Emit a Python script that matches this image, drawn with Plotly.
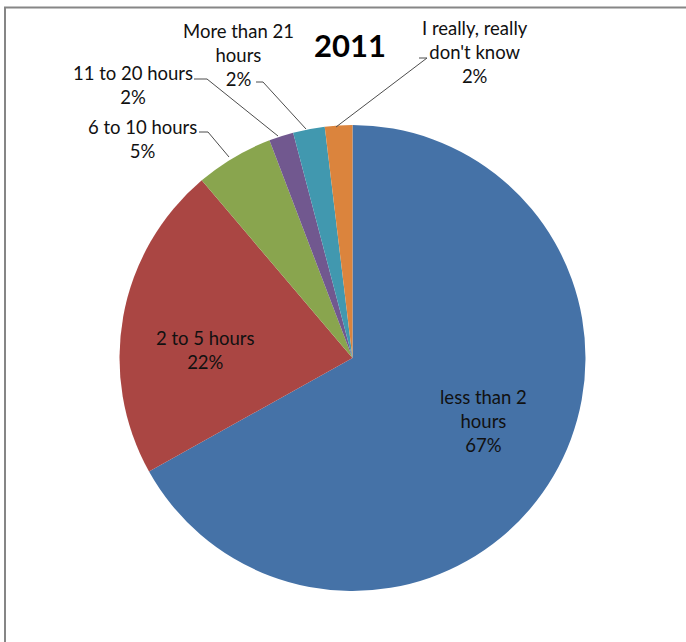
import plotly.graph_objects as go

categories = ["less than 2 hours", "2 to 5 hours", "6 to 10 hours",
              "11 to 20 hours", "More than 21 hours", "I really, really don't know"]
values = [66.9, 21.9, 5.4, 1.7, 2.2, 1.9]
colors = ["#4572A7", "#AA4643", "#89A54E", "#71588F", "#4198AF", "#DB843D"]
label_lines = [
    ["less than 2", "hours"],
    ["2 to 5 hours"],
    ["6 to 10 hours"],
    ["11 to 20 hours"],
    ["More than 21", "hours"],
    ["I really, really", "don't know"],
]
title_text = "2011"

W, H = 686, 642
cx, cy, r = 352.5, 358, 233

# label centres (pixels) and leader-line paths (pixels)
label_pos = [(483, 421), (205, 350), (142, 139), (133, 85), (238, 55), (475, 52)]
leaders = [
    None,
    None,
    [(199, 132), (208, 132), (229, 157)],
    [(194, 79), (207, 79), (278, 136)],
    [(256, 82), (263, 82), (306, 129)],
    [(419, 58), (427, 58), (336, 127)],
]


def px(x):
    return x / W


def py(y):
    return 1 - y / H


total = sum(values)
pcts = [f"{round(v / total * 100)}%" for v in values]

fig = go.Figure(go.Pie(
    labels=categories,
    values=values,
    marker=dict(colors=colors, line=dict(width=0)),
    sort=False,
    direction="clockwise",
    rotation=0,
    textinfo="none",
    hoverinfo="label+percent",
    showlegend=False,
    domain=dict(x=[(cx - r) / W, (cx + r) / W], y=[1 - (cy + r) / H, 1 - (cy - r) / H]),
))

FONT = "Lato, 'Noto Sans', sans-serif"
annotations = []
for lines, pct, (lx, ly) in zip(label_lines, pcts, label_pos):
    annotations.append(dict(
        text="<br>".join(lines + [pct]),
        x=px(lx), y=py(ly), xref="paper", yref="paper",
        xanchor="center", yanchor="middle", align="center", showarrow=False,
        font=dict(family=FONT, size=18.5, color="#111111"),
    ))
annotations.append(dict(
    text=f"<b>{title_text}</b>", x=px(350), y=py(45), xref="paper", yref="paper",
    xanchor="center", yanchor="middle", showarrow=False,
    font=dict(family=FONT, size=31, color="#000000"),
))

shapes = []
for pts in leaders:
    if not pts:
        continue
    path = "M " + " L ".join(f"{px(x)},{py(y)}" for x, y in pts)
    shapes.append(dict(type="path", path=path, xref="paper", yref="paper",
                       line=dict(color="#4d4d4d", width=1)))
# chart area border (only top & left edges visible in the reference)
border_pts = [(5, 660), (5, 7.5), (700, 7.5)]
shapes.append(dict(type="path", xref="paper", yref="paper",
                   path="M " + " L ".join(f"{px(x)},{py(y)}" for x, y in border_pts),
                   line=dict(color="#868686", width=2)))

fig.update_layout(
    width=W, height=H,
    margin=dict(l=0, r=0, t=0, b=0),
    paper_bgcolor="white", plot_bgcolor="white",
    annotations=annotations, shapes=shapes,
)

fig.write_html("out.html", config={"displayModeBar": False},
               post_script="document.body.style.margin='0';"
                           "document.body.style.overflow='hidden';"
                           "document.documentElement.style.overflow='hidden';")
